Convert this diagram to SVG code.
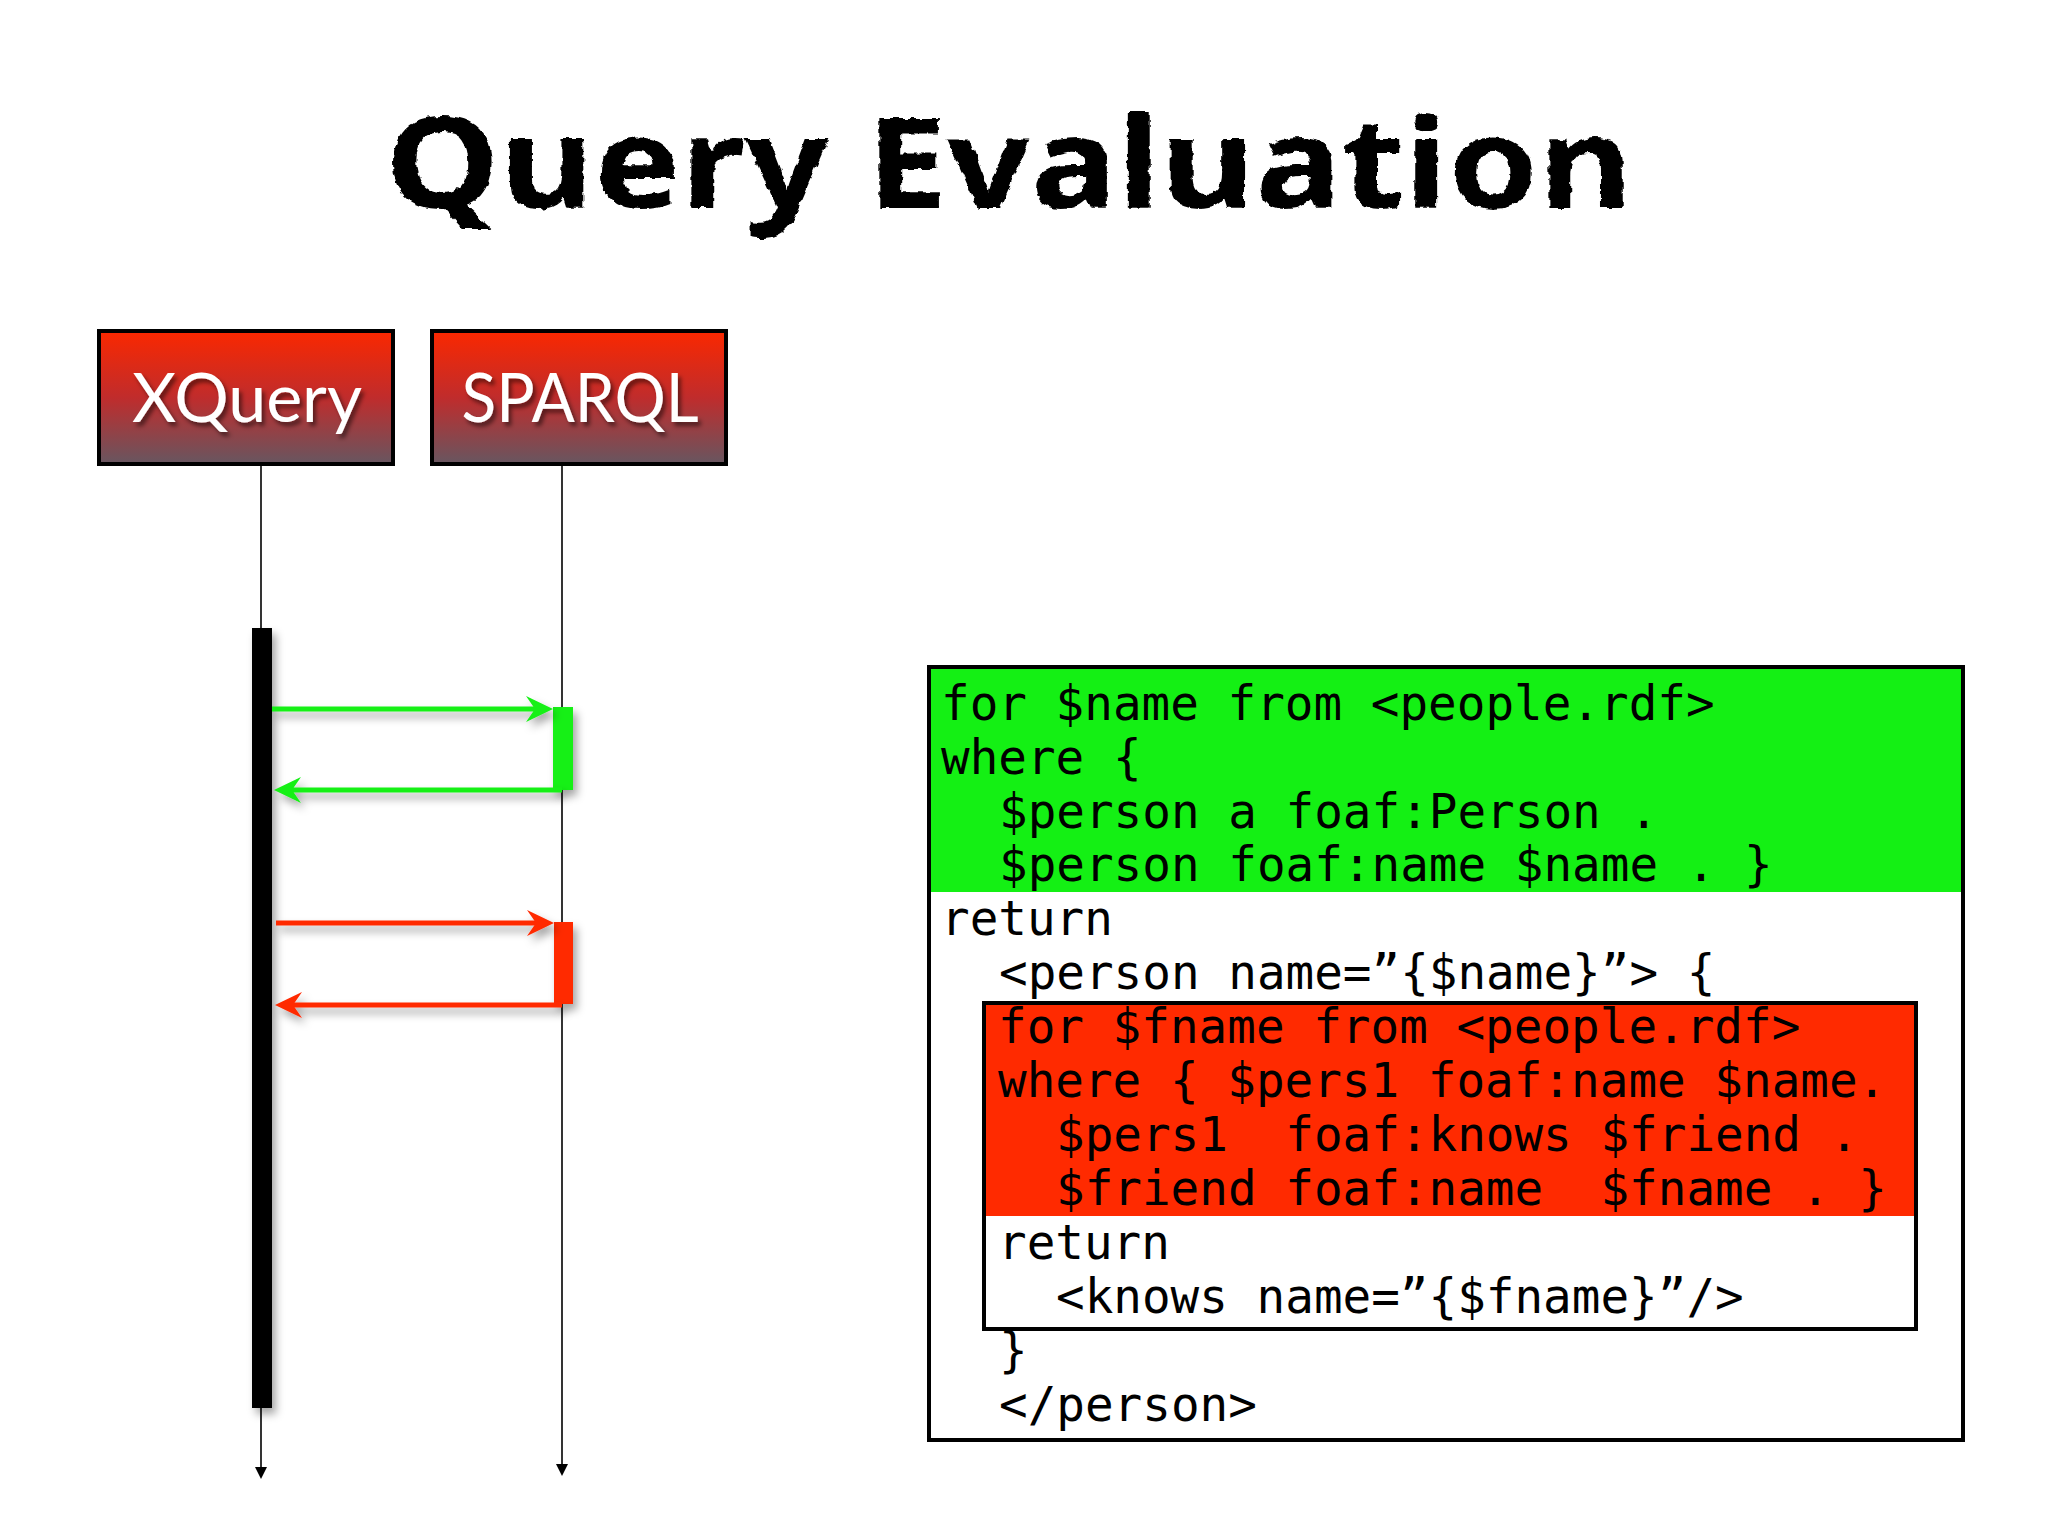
<svg xmlns="http://www.w3.org/2000/svg" width="2048" height="1536" viewBox="0 0 2048 1536">
  <defs>
    <linearGradient id="boxGrad" x1="0" y1="0" x2="0" y2="1">
      <stop offset="0" stop-color="#fa2800"/>
      <stop offset="0.5" stop-color="#c02c2c"/>
      <stop offset="1" stop-color="#675660"/>
    </linearGradient>
    <filter id="shadow" x="-50%" y="-50%" width="200%" height="200%">
      <feDropShadow dx="4" dy="6" stdDeviation="4" flood-color="#000" flood-opacity="0.35"/>
    </filter>
    <filter id="txtShadow" x="-20%" y="-20%" width="140%" height="140%">
      <feDropShadow dx="3" dy="4" stdDeviation="2" flood-color="#000" flood-opacity="0.5"/>
    </filter>
    <filter id="chalk" x="-5%" y="-10%" width="110%" height="120%">
      <feTurbulence type="fractalNoise" baseFrequency="0.12" numOctaves="2" seed="3" result="n"/>
      <feDisplacementMap in="SourceGraphic" in2="n" scale="6" xChannelSelector="R" yChannelSelector="G"/>
    </filter>
    <style>
      .title { font-family: "Noto Sans", "DejaVu Sans", sans-serif; font-weight: 700; font-size: 126px; fill: #000; }
      .hdr { fill: url(#boxGrad); stroke: #000; stroke-width: 4; }
      .hdrTxt { font-family: Lato, "Open Sans", sans-serif; font-size: 68px; fill: #fff; text-anchor: middle; }
      .life { stroke: #000; stroke-width: 1.6; fill: none; }
      .code { font-family: "DejaVu Sans Mono", "Liberation Mono", monospace; font-size: 47.6px; fill: #000; white-space: pre; }
      .green { fill: #14f014; }
      .red { fill: #ff2a00; }
      .gline { stroke: #14f014; stroke-width: 5; fill: none; }
      .rline { stroke: #ff2a00; stroke-width: 5; fill: none; }
    </style>
  </defs>

  <rect x="0" y="0" width="2048" height="1536" fill="#fff"/>

  <g id="title" filter="url(#chalk)">
    <text class="title" x="385" y="208" textLength="1248" lengthAdjust="spacingAndGlyphs">Query Evaluation</text>
  </g>

  <g id="node-xquery">
    <rect class="hdr" x="99" y="331" width="294" height="133"/>
    <text class="hdrTxt" x="247" y="422" textLength="230" lengthAdjust="spacingAndGlyphs" filter="url(#txtShadow)">XQuery</text>
  </g>

  <g id="node-sparql">
    <rect class="hdr" x="432" y="331" width="294" height="133"/>
    <text class="hdrTxt" x="580" y="422" textLength="237" lengthAdjust="spacingAndGlyphs" filter="url(#txtShadow)">SPARQL</text>
  </g>

  <g id="lifelines">
    <line class="life" x1="261" y1="465" x2="261" y2="1468"/>
    <polygon points="255,1467 267,1467 261,1479" fill="#000"/>
    <line class="life" x1="562" y1="465" x2="562" y2="1465"/>
    <polygon points="556,1464 568,1464 562,1476" fill="#000"/>
  </g>

  <g id="activations" filter="url(#shadow)">
    <rect id="act-xquery" x="252" y="628" width="20" height="780" fill="#000"/>
    <rect id="act-green" class="green" x="553" y="707" width="20" height="83"/>
    <rect id="act-red" class="red" x="554" y="922" width="19" height="82"/>
  </g>

  <g id="connectors" filter="url(#shadow)">
    <g id="msg-green-call">
      <line class="gline" x1="272" y1="709" x2="540" y2="709"/>
      <polygon class="green" points="553,709 526,696 535,709 526,722"/>
    </g>
    <g id="msg-green-return">
      <line class="gline" x1="562" y1="790" x2="287" y2="790"/>
      <polygon class="green" points="274,790 301,777 292,790 301,803"/>
    </g>
    <g id="msg-red-call">
      <line class="rline" x1="276" y1="923" x2="541" y2="923"/>
      <polygon class="red" points="554,923 527,910 536,923 527,936"/>
    </g>
    <g id="msg-red-return">
      <line class="rline" x1="562" y1="1005" x2="288" y2="1005"/>
      <polygon class="red" points="275,1005 302,992 293,1005 302,1018"/>
    </g>
  </g>

  <g id="node-code">
    <rect x="929" y="667" width="1034" height="773" fill="#fff" stroke="#000" stroke-width="4"/>
    <rect class="green" x="931" y="669" width="1030" height="223"/>
    <g id="node-inner">
      <rect x="984" y="1003" width="932" height="326" fill="#fff" stroke="#000" stroke-width="4"/>
      <rect class="red" x="986" y="1005" width="928" height="211"/>
    </g>
    <g class="code">
      <text x="941" y="720">for $name from &lt;people.rdf&gt;</text>
      <text x="941" y="774">where {</text>
      <text x="999" y="828">$person a foaf:Person .</text>
      <text x="999" y="881">$person foaf:name $name . }</text>
      <text x="941" y="935">return</text>
      <text x="999" y="989">&lt;person name=”{$name}”&gt; {</text>
      <text x="998" y="1043">for $fname from &lt;people.rdf&gt;</text>
      <text x="998" y="1097">where { $pers1 foaf:name $name.</text>
      <text x="1056" y="1151">$pers1&#160; foaf:knows $friend .</text>
      <text x="1056" y="1205">$friend foaf:name&#160; $fname . }</text>
      <text x="998" y="1259">return</text>
      <text x="1056" y="1313">&lt;knows name=”{$fname}”/&gt;</text>
      <text x="999" y="1367">}</text>
      <text x="999" y="1421">&lt;/person&gt;</text>
    </g>
  </g>
</svg>
